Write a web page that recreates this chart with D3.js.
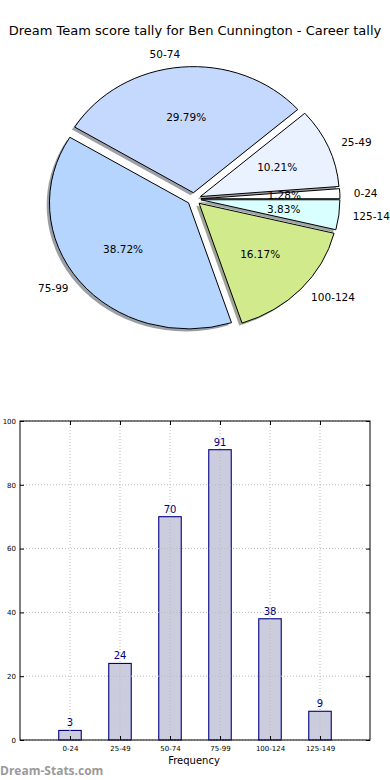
<!DOCTYPE html>
<html>
<head>
<meta charset="utf-8">
<script src="https://cdn.jsdelivr.net/npm/d3@7"></script>
<style>
body{margin:0;background:#fff;}
svg{display:block;font-family:"DejaVu Sans",sans-serif;}
</style>
</head>
<body>
<svg id="chart" width="390" height="780"></svg>
<script>
// score ranges and how many games fell in each
var categories = ["0-24","25-49","50-74","75-99","100-124","125-149"];
var counts = [3,24,70,91,38,9];
var pieColors = ["#ffffff","#eaf1ff","#c5d9ff","#b5d5ff","#d1eb8c","#d9ffff"];
var yTicks = [0,20,40,60,80,100];

var svg = d3.select("#chart");

svg.append("text")
 .attr("x",195).attr("y",35)
 .attr("text-anchor","middle")
 .style("font-size","13px")
 .text("Dream Team score tally for Ben Cunnington - Career tally");

// ---- pie (matplotlib style: starts at 3 o'clock, counter-clockwise, exploded) ----
var cx = 194, cy = 199, rx = 139, ry = 126, explode = 0.05;
var total = d3.sum(counts);
var pie = d3.pie().sort(null).startAngle(Math.PI/2).endAngle(Math.PI/2 - 2*Math.PI);
var arcs = pie(counts);
var arc = d3.arc().innerRadius(0).outerRadius(1);

function mid(d){ return (d.startAngle + d.endAngle)/2; }
function offX(d,k){ return cx + Math.sin(mid(d))*rx*k; }
function offY(d,k){ return cy - Math.cos(mid(d))*ry*k; }

var pg = svg.append("g");
// shadows
pg.selectAll(".shadow").data(arcs).enter().append("path")
 .attr("class","shadow")
 .attr("transform",function(d){ return "translate("+(offX(d,explode)-2.8)+","+(offY(d,explode)+2.5)+") scale("+rx+","+ry+")"; })
 .attr("d",arc)
 .attr("fill",function(d,i){ var c=d3.rgb(pieColors[i]); return d3.rgb(c.r*0.3,c.g*0.3,c.b*0.3); })
 .attr("fill-opacity",0.5)
 .attr("stroke","none");
pg.selectAll(".wedge").data(arcs).enter().append("path")
 .attr("class","wedge")
 .attr("transform",function(d){ return "translate("+offX(d,explode)+","+offY(d,explode)+") scale("+rx+","+ry+")"; })
 .attr("d",arc)
 .attr("fill",function(d,i){ return pieColors[i]; })
 .attr("stroke","#000")
 .attr("stroke-width",1)
 .attr("vector-effect","non-scaling-stroke")
 .attr("stroke-linejoin","round");

// outer labels
pg.selectAll(".lab").data(arcs).enter().append("text")
 .attr("x",function(d){ return offX(d,explode) + Math.sin(mid(d))*rx*1.1; })
 .attr("y",function(d){ return offY(d,explode) - Math.cos(mid(d))*ry*1.1; })
 .attr("dy","0.35em")
 .attr("text-anchor",function(d){ return Math.sin(mid(d))>0 ? "start" : "end"; })
 .style("font-size","10.5px")
 .text(function(d,i){ return categories[i]; });
// percentage labels
pg.selectAll(".pct").data(arcs).enter().append("text")
 .attr("x",function(d){ return offX(d,explode) + Math.sin(mid(d))*rx*0.6; })
 .attr("y",function(d){ return offY(d,explode) - Math.cos(mid(d))*ry*0.6; })
 .attr("dy","0.35em")
 .attr("text-anchor","middle")
 .style("font-size","10.5px")
 .text(function(d){ return (d.value/total*100).toFixed(2)+"%"; });

// ---- bar chart ----
var plotL = 20, plotR = 370, plotT = 421, plotB = 740;
var x = d3.scaleLinear().domain([-1,6]).range([plotL,plotR]);
var y = d3.scaleLinear().domain([0,100]).range([plotB,plotT]);
var bw = x(0.45) - x(0);

var bg = svg.append("g");
bg.selectAll(".bar").data(counts).enter().append("rect")
 .attr("x",function(d,i){ return x(i) - bw/2; })
 .attr("y",function(d){ return y(d); })
 .attr("width",bw)
 .attr("height",function(d){ return plotB - y(d); })
 .attr("fill","#ccccdf")
 .attr("stroke","#000080")
 .attr("stroke-width",1.1);

// grid (drawn over bars, like matplotlib)
bg.selectAll(".vgrid").data(categories).enter().append("line")
 .attr("x1",function(d,i){ return x(i); }).attr("x2",function(d,i){ return x(i); })
 .attr("y1",plotT).attr("y2",plotB)
 .attr("stroke","#bbb").attr("stroke-width",1).attr("stroke-dasharray","1,2");
bg.selectAll(".hgrid").data(yTicks).enter().append("line")
 .attr("x1",plotL).attr("x2",plotR)
 .attr("y1",function(d){ return y(d); }).attr("y2",function(d){ return y(d); })
 .attr("stroke","#bbb").attr("stroke-width",1).attr("stroke-dasharray","1,2");

// axes with inward ticks
var yAxis = bg.append("g").attr("transform","translate("+plotL+",0)")
 .call(d3.axisLeft(y).tickValues(yTicks).tickSizeInner(-4).tickSizeOuter(0).tickPadding(6));
var yAxisR = bg.append("g").attr("transform","translate("+plotR+",0)")
 .call(d3.axisRight(y).tickValues(yTicks).tickSizeInner(-4).tickSizeOuter(0).tickFormat(""));
var xAxis = bg.append("g").attr("transform","translate(0,"+plotB+")")
 .call(d3.axisBottom(x).tickValues(d3.range(categories.length)).tickFormat(function(d){ return categories[d]; }).tickSizeInner(-4).tickSizeOuter(0).tickPadding(6));
var xAxisT = bg.append("g").attr("transform","translate(0,"+plotT+")")
 .call(d3.axisTop(x).tickValues(d3.range(categories.length)).tickSizeInner(-4).tickSizeOuter(0).tickFormat(""));
[yAxis,yAxisR,xAxis,xAxisT].forEach(function(a){
 a.select(".domain").remove();
 a.selectAll(".tick line").attr("stroke","#000");
 a.selectAll("text").style("font-family","'DejaVu Sans',sans-serif").style("font-size","7px").attr("fill","#000");
});
yAxis.selectAll("text").attr("x",-4);

bg.append("rect")
 .attr("x",plotL).attr("y",plotT).attr("width",plotR-plotL).attr("height",plotB-plotT)
 .attr("fill","none").attr("stroke","#000").attr("stroke-width",1);

// value labels
bg.selectAll(".val").data(counts).enter().append("text")
 .attr("x",function(d,i){ return x(i); })
 .attr("y",function(d){ return y(d) - 4; })
 .attr("text-anchor","middle")
 .attr("fill","#000080")
 .style("font-size","10px")
 .text(function(d){ return d; });

svg.append("text")
 .attr("x",194).attr("y",764)
 .attr("text-anchor","middle")
 .style("font-size","10px")
 .text("Frequency");

svg.append("text")
 .attr("x",0).attr("y",775)
 .attr("fill","#9a9a9a")
 .style("font-family","'Open Sans',sans-serif")
 .style("font-weight","bold")
 .style("font-size","12px")
 .text("Dream-Stats.com");
</script>
</body>
</html>
